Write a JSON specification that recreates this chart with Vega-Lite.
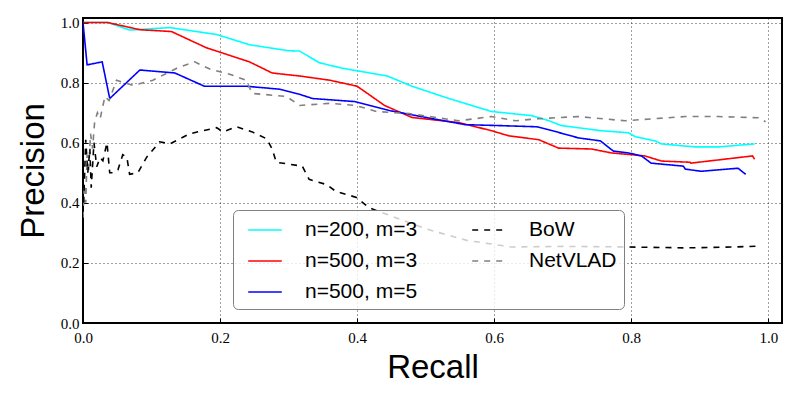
{
  "$schema": "https://vega.github.io/schema/vega-lite/v6.json",
  "width": 699,
  "height": 305,
  "autosize": {"type": "none"},
  "padding": {"left": 83, "top": 18, "right": 18, "bottom": 77},
  "background": "white",
  "data": {"values": [
    {"s":"n=200, m=3","i":0,"x":0,"y":1.0},{"s":"n=200, m=3","i":1,"x":0.036,"y":1.0},{"s":"n=200, m=3","i":2,"x":0.068,"y":0.975},{"s":"n=200, m=3","i":3,"x":0.127,"y":0.983},{"s":"n=200, m=3","i":4,"x":0.195,"y":0.96},{"s":"n=200, m=3","i":5,"x":0.243,"y":0.926},{"s":"n=200, m=3","i":6,"x":0.3,"y":0.906},{"s":"n=200, m=3","i":7,"x":0.316,"y":0.905},{"s":"n=200, m=3","i":8,"x":0.345,"y":0.866},{"s":"n=200, m=3","i":9,"x":0.378,"y":0.848},{"s":"n=200, m=3","i":10,"x":0.444,"y":0.822},{"s":"n=200, m=3","i":11,"x":0.48,"y":0.788},{"s":"n=200, m=3","i":12,"x":0.534,"y":0.747},{"s":"n=200, m=3","i":13,"x":0.596,"y":0.704},{"s":"n=200, m=3","i":14,"x":0.655,"y":0.69},{"s":"n=200, m=3","i":15,"x":0.68,"y":0.673},{"s":"n=200, m=3","i":16,"x":0.698,"y":0.657},{"s":"n=200, m=3","i":17,"x":0.756,"y":0.64},{"s":"n=200, m=3","i":18,"x":0.796,"y":0.633},{"s":"n=200, m=3","i":19,"x":0.806,"y":0.62},{"s":"n=200, m=3","i":20,"x":0.835,"y":0.606},{"s":"n=200, m=3","i":21,"x":0.844,"y":0.596},{"s":"n=200, m=3","i":22,"x":0.893,"y":0.586},{"s":"n=200, m=3","i":23,"x":0.927,"y":0.586},{"s":"n=200, m=3","i":24,"x":0.98,"y":0.596},
    {"s":"n=500, m=3","i":0,"x":0,"y":1.0},{"s":"n=500, m=3","i":1,"x":0.036,"y":1.0},{"s":"n=500, m=3","i":2,"x":0.083,"y":0.976},{"s":"n=500, m=3","i":3,"x":0.129,"y":0.97},{"s":"n=500, m=3","i":4,"x":0.18,"y":0.916},{"s":"n=500, m=3","i":5,"x":0.243,"y":0.869},{"s":"n=500, m=3","i":6,"x":0.276,"y":0.832},{"s":"n=500, m=3","i":7,"x":0.316,"y":0.822},{"s":"n=500, m=3","i":8,"x":0.36,"y":0.808},{"s":"n=500, m=3","i":9,"x":0.4,"y":0.788},{"s":"n=500, m=3","i":10,"x":0.44,"y":0.724},{"s":"n=500, m=3","i":11,"x":0.48,"y":0.684},{"s":"n=500, m=3","i":12,"x":0.548,"y":0.667},{"s":"n=500, m=3","i":13,"x":0.596,"y":0.64},{"s":"n=500, m=3","i":14,"x":0.621,"y":0.623},{"s":"n=500, m=3","i":15,"x":0.665,"y":0.61},{"s":"n=500, m=3","i":16,"x":0.694,"y":0.582},{"s":"n=500, m=3","i":17,"x":0.742,"y":0.579},{"s":"n=500, m=3","i":18,"x":0.771,"y":0.566},{"s":"n=500, m=3","i":19,"x":0.82,"y":0.556},{"s":"n=500, m=3","i":20,"x":0.844,"y":0.539},{"s":"n=500, m=3","i":21,"x":0.886,"y":0.535},{"s":"n=500, m=3","i":22,"x":0.887,"y":0.532},{"s":"n=500, m=3","i":23,"x":0.977,"y":0.556},{"s":"n=500, m=3","i":24,"x":0.98,"y":0.545},
    {"s":"n=500, m=5","i":0,"x":0,"y":1.0},{"s":"n=500, m=5","i":1,"x":0.006,"y":0.859},{"s":"n=500, m=5","i":2,"x":0.028,"y":0.869},{"s":"n=500, m=5","i":3,"x":0.039,"y":0.747},{"s":"n=500, m=5","i":4,"x":0.083,"y":0.842},{"s":"n=500, m=5","i":5,"x":0.134,"y":0.832},{"s":"n=500, m=5","i":6,"x":0.177,"y":0.788},{"s":"n=500, m=5","i":7,"x":0.238,"y":0.788},{"s":"n=500, m=5","i":8,"x":0.287,"y":0.778},{"s":"n=500, m=5","i":9,"x":0.316,"y":0.761},{"s":"n=500, m=5","i":10,"x":0.335,"y":0.747},{"s":"n=500, m=5","i":11,"x":0.396,"y":0.737},{"s":"n=500, m=5","i":12,"x":0.447,"y":0.707},{"s":"n=500, m=5","i":13,"x":0.51,"y":0.68},{"s":"n=500, m=5","i":14,"x":0.558,"y":0.66},{"s":"n=500, m=5","i":15,"x":0.607,"y":0.657},{"s":"n=500, m=5","i":16,"x":0.662,"y":0.653},{"s":"n=500, m=5","i":17,"x":0.68,"y":0.643},{"s":"n=500, m=5","i":18,"x":0.723,"y":0.616},{"s":"n=500, m=5","i":19,"x":0.755,"y":0.606},{"s":"n=500, m=5","i":20,"x":0.774,"y":0.572},{"s":"n=500, m=5","i":21,"x":0.796,"y":0.566},{"s":"n=500, m=5","i":22,"x":0.815,"y":0.556},{"s":"n=500, m=5","i":23,"x":0.829,"y":0.532},{"s":"n=500, m=5","i":24,"x":0.876,"y":0.522},{"s":"n=500, m=5","i":25,"x":0.879,"y":0.512},{"s":"n=500, m=5","i":26,"x":0.902,"y":0.505},{"s":"n=500, m=5","i":27,"x":0.956,"y":0.515},{"s":"n=500, m=5","i":28,"x":0.963,"y":0.502},{"s":"n=500, m=5","i":29,"x":0.967,"y":0.495},
    {"s":"NetVLAD","i":0,"x":0,"y":0.35},{"s":"NetVLAD","i":1,"x":0.002,"y":0.46},{"s":"NetVLAD","i":2,"x":0.004,"y":0.4},{"s":"NetVLAD","i":3,"x":0.006,"y":0.56},{"s":"NetVLAD","i":4,"x":0.008,"y":0.5},{"s":"NetVLAD","i":5,"x":0.011,"y":0.63},{"s":"NetVLAD","i":6,"x":0.014,"y":0.58},{"s":"NetVLAD","i":7,"x":0.017,"y":0.67},{"s":"NetVLAD","i":8,"x":0.021,"y":0.7},{"s":"NetVLAD","i":9,"x":0.025,"y":0.68},{"s":"NetVLAD","i":10,"x":0.032,"y":0.754},{"s":"NetVLAD","i":11,"x":0.038,"y":0.74},{"s":"NetVLAD","i":12,"x":0.049,"y":0.808},{"s":"NetVLAD","i":13,"x":0.06,"y":0.8},{"s":"NetVLAD","i":14,"x":0.073,"y":0.791},{"s":"NetVLAD","i":15,"x":0.102,"y":0.808},{"s":"NetVLAD","i":16,"x":0.137,"y":0.848},{"s":"NetVLAD","i":17,"x":0.163,"y":0.869},{"s":"NetVLAD","i":18,"x":0.185,"y":0.845},{"s":"NetVLAD","i":19,"x":0.214,"y":0.828},{"s":"NetVLAD","i":20,"x":0.238,"y":0.808},{"s":"NetVLAD","i":21,"x":0.247,"y":0.764},{"s":"NetVLAD","i":22,"x":0.297,"y":0.754},{"s":"NetVLAD","i":23,"x":0.316,"y":0.724},{"s":"NetVLAD","i":24,"x":0.36,"y":0.731},{"s":"NetVLAD","i":25,"x":0.398,"y":0.724},{"s":"NetVLAD","i":26,"x":0.428,"y":0.704},{"s":"NetVLAD","i":27,"x":0.476,"y":0.697},{"s":"NetVLAD","i":28,"x":0.548,"y":0.673},{"s":"NetVLAD","i":29,"x":0.596,"y":0.687},{"s":"NetVLAD","i":30,"x":0.631,"y":0.673},{"s":"NetVLAD","i":31,"x":0.665,"y":0.68},{"s":"NetVLAD","i":32,"x":0.723,"y":0.687},{"s":"NetVLAD","i":33,"x":0.791,"y":0.673},{"s":"NetVLAD","i":34,"x":0.835,"y":0.68},{"s":"NetVLAD","i":35,"x":0.879,"y":0.687},{"s":"NetVLAD","i":36,"x":0.927,"y":0.687},{"s":"NetVLAD","i":37,"x":0.985,"y":0.683},{"s":"NetVLAD","i":38,"x":0.996,"y":0.67},
    {"s":"BoW","i":0,"x":0.001,"y":0.4},{"s":"BoW","i":1,"x":0.004,"y":0.61},{"s":"BoW","i":2,"x":0.007,"y":0.5},{"s":"BoW","i":3,"x":0.01,"y":0.58},{"s":"BoW","i":4,"x":0.012,"y":0.45},{"s":"BoW","i":5,"x":0.016,"y":0.6},{"s":"BoW","i":6,"x":0.02,"y":0.52},{"s":"BoW","i":7,"x":0.025,"y":0.55},{"s":"BoW","i":8,"x":0.029,"y":0.54},{"s":"BoW","i":9,"x":0.035,"y":0.6},{"s":"BoW","i":10,"x":0.039,"y":0.5},{"s":"BoW","i":11,"x":0.045,"y":0.5},{"s":"BoW","i":12,"x":0.051,"y":0.51},{"s":"BoW","i":13,"x":0.058,"y":0.56},{"s":"BoW","i":14,"x":0.064,"y":0.552},{"s":"BoW","i":15,"x":0.068,"y":0.495},{"s":"BoW","i":16,"x":0.08,"y":0.5},{"s":"BoW","i":17,"x":0.093,"y":0.552},{"s":"BoW","i":18,"x":0.112,"y":0.603},{"s":"BoW","i":19,"x":0.127,"y":0.596},{"s":"BoW","i":20,"x":0.156,"y":0.63},{"s":"BoW","i":21,"x":0.195,"y":0.65},{"s":"BoW","i":22,"x":0.204,"y":0.636},{"s":"BoW","i":23,"x":0.224,"y":0.653},{"s":"BoW","i":24,"x":0.247,"y":0.636},{"s":"BoW","i":25,"x":0.268,"y":0.613},{"s":"BoW","i":26,"x":0.276,"y":0.579},{"s":"BoW","i":27,"x":0.282,"y":0.535},{"s":"BoW","i":28,"x":0.32,"y":0.522},{"s":"BoW","i":29,"x":0.33,"y":0.478},{"s":"BoW","i":30,"x":0.355,"y":0.461},{"s":"BoW","i":31,"x":0.369,"y":0.438},{"s":"BoW","i":32,"x":0.399,"y":0.418},{"s":"BoW","i":33,"x":0.417,"y":0.384},{"s":"BoW","i":34,"x":0.465,"y":0.343},{"s":"BoW","i":35,"x":0.505,"y":0.31},{"s":"BoW","i":36,"x":0.56,"y":0.275},{"s":"BoW","i":37,"x":0.625,"y":0.253},{"s":"BoW","i":38,"x":0.7,"y":0.255},{"s":"BoW","i":39,"x":0.796,"y":0.253},{"s":"BoW","i":40,"x":0.88,"y":0.25},{"s":"BoW","i":41,"x":0.95,"y":0.253},{"s":"BoW","i":42,"x":0.99,"y":0.256}
  ]},
  "mark": {"type": "line", "strokeWidth": 1.6, "clip": true},
  "encoding": {
    "x": {"field": "x", "type": "quantitative", "scale": {"domain": [0, 1.02], "nice": false, "zero": false},
      "axis": {"title": "Recall", "values": [0, 0.2, 0.4, 0.6, 0.8, 1.0], "format": ".1f", "labelFlush": false}},
    "y": {"field": "y", "type": "quantitative", "scale": {"domain": [0, 1.015], "nice": false},
      "axis": {"title": "Precision", "values": [0, 0.2, 0.4, 0.6, 0.8, 1.0], "format": ".1f", "labelFlush": false, "labelPadding": 9}},
    "order": {"field": "i", "type": "quantitative"},
    "color": {"field": "s", "type": "nominal",
      "scale": {"domain": ["n=200, m=3", "n=500, m=3", "n=500, m=5", "BoW", "NetVLAD"], "range": ["#00ffff", "#ff0000", "#0000ff", "#000000", "#808080"]},
      "legend": {"title": null, "orient": "none", "legendX": 150, "legendY": 192, "columns": 2, "columnPadding": 46, "rowPadding": 8, "gridAlign": "each",
        "symbolType": "M-0.4,0H2.4", "symbolSize": 576, "symbolStrokeWidth": 1.6, "labelOffset": 39,
        "labelFont": "Liberation Sans", "labelFontSize": 21, "labelColor": "black", "labelLimit": 300,
        "padding": 7, "fillColor": "rgba(255,255,255,0.8)", "strokeColor": "#7f7f7f", "cornerRadius": 5}},
    "strokeDash": {"field": "s", "type": "nominal",
      "scale": {"domain": ["n=200, m=3", "n=500, m=3", "n=500, m=5", "BoW", "NetVLAD"], "range": [[1, 0], [1, 0], [1, 0], [6, 6], [6, 6]]},
      "legend": {"title": null, "orient": "none", "legendX": 150, "legendY": 192, "columns": 2, "columnPadding": 46, "rowPadding": 8, "gridAlign": "each",
        "symbolType": "M-0.4,0H2.4", "symbolSize": 576, "symbolStrokeWidth": 1.6, "labelOffset": 39,
        "labelFont": "Liberation Sans", "labelFontSize": 21, "labelColor": "black", "labelLimit": 300,
        "padding": 7, "fillColor": "rgba(255,255,255,0.8)", "strokeColor": "#7f7f7f", "cornerRadius": 5}}
  },
  "config": {
    "view": {"stroke": "black", "strokeWidth": 2},
    "axis": {
      "domain": false,
      "grid": true, "gridColor": "black", "gridDash": [1, 3], "gridOpacity": 0.75, "gridWidth": 1,
      "ticks": true, "tickColor": "black", "tickSize": -5, "tickWidth": 1,
      "labelFont": "Liberation Serif", "labelFontSize": 15, "labelColor": "black", "labelPadding": 12,
      "titleFont": "Liberation Sans", "titleFontSize": 33, "titleFontWeight": "normal", "titleColor": "black"
    },
    "axisX": {"titlePadding": 6},
    "axisY": {"titlePadding": 10}
  }
}
